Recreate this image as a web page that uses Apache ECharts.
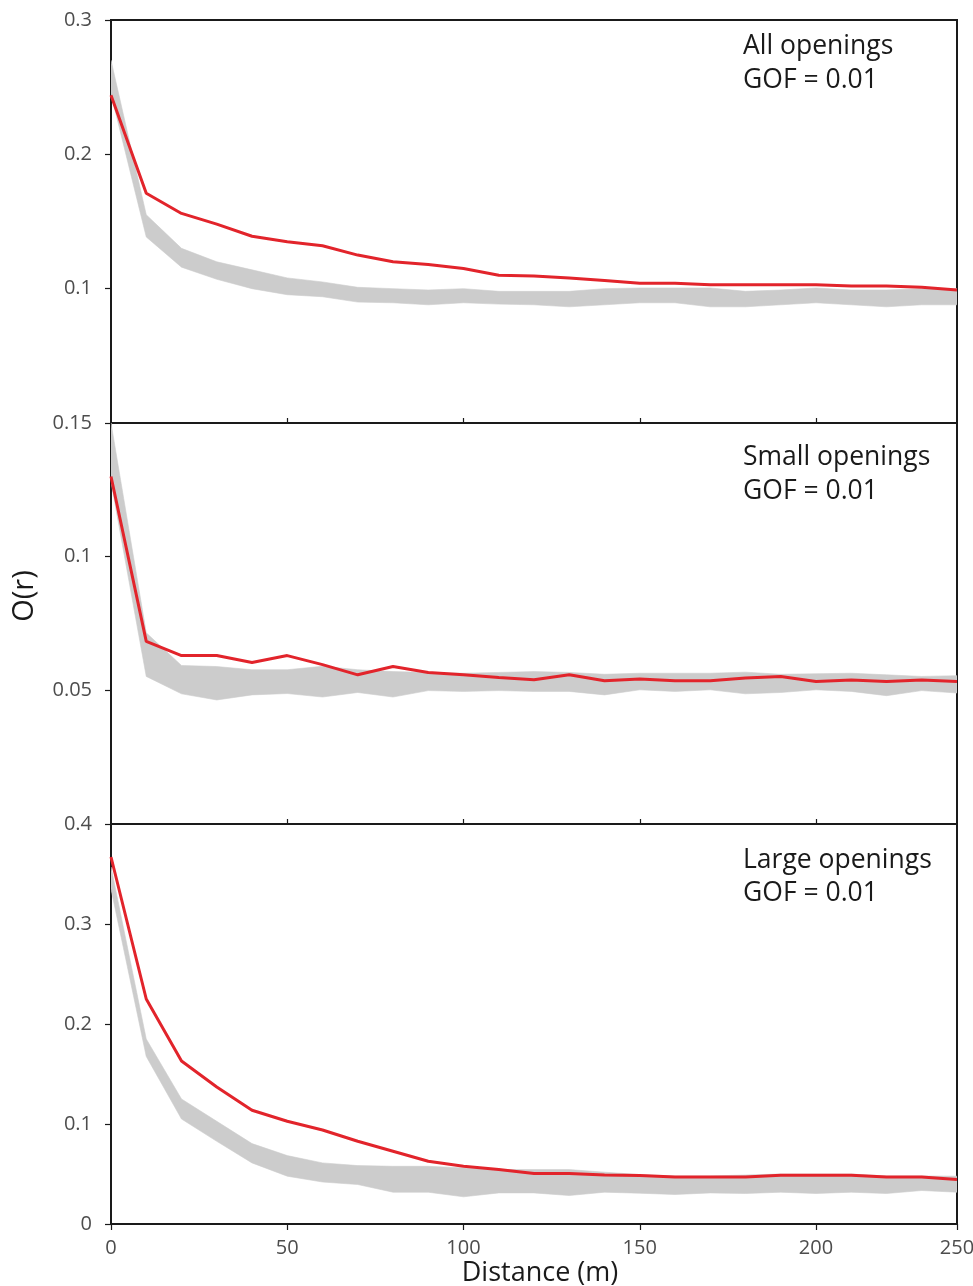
<!DOCTYPE html>
<html>
<head>
<meta charset="utf-8">
<title>O(r) of canopy openings</title>
<script src="https://cdn.jsdelivr.net/npm/echarts@6/dist/echarts.min.js"></script>
<style>
  html, body { margin: 0; padding: 0; background: #ffffff; }
  #chart { width: 973px; height: 1286px; }
</style>
</head>
<body>
<div id="chart"></div>
<script>
// Distance classes (m)
const distance = [0, 10, 20, 30, 40, 50, 60, 70, 80, 90, 100, 110, 120,
                  130, 140, 150, 160, 170, 180, 190, 200, 210, 220, 230, 240];

// x tick positions and the text printed under them
const xTickValues = [0, 50, 100, 150, 200, 240];
const xTickLabels = ['0', '50', '100', '150', '200', '250'];

// All openings: observed O(r) and simulation envelope
const obsAll = [0.244, 0.171, 0.156, 0.148, 0.139, 0.135, 0.132, 0.125, 0.120, 0.118, 0.115, 0.110, 0.1095,
                0.108, 0.106, 0.104, 0.104, 0.103, 0.103, 0.103, 0.103, 0.102, 0.102, 0.101, 0.099];
const hiAll  = [0.270, 0.155, 0.130, 0.120, 0.114, 0.108, 0.105, 0.101, 0.100, 0.099, 0.100, 0.098, 0.098,
                0.098, 0.100, 0.1005, 0.1005, 0.1005, 0.098, 0.099, 0.1005, 0.099, 0.099, 0.100, 0.100];
const loAll  = [0.245, 0.1385, 0.116, 0.107, 0.100, 0.0955, 0.094, 0.090, 0.0895, 0.088, 0.0895, 0.0885, 0.088,
                0.0865, 0.088, 0.0895, 0.0895, 0.0865, 0.0865, 0.088, 0.0895, 0.088, 0.0865, 0.088, 0.088];

// Small openings
const obsSmall = [0.130, 0.0683, 0.063, 0.063, 0.0604, 0.063, 0.0596, 0.0558, 0.0589, 0.0567, 0.0558, 0.0548, 0.054,
                  0.0558, 0.0536, 0.0542, 0.0536, 0.0536, 0.0546, 0.0552, 0.0533, 0.0539, 0.0533, 0.0539, 0.0533];
const hiSmall  = [0.150, 0.0715, 0.0593, 0.0589, 0.0577, 0.0577, 0.059, 0.0577, 0.057, 0.0567, 0.0564, 0.0567, 0.057,
                  0.0567, 0.056, 0.0564, 0.0564, 0.0564, 0.0568, 0.056, 0.0562, 0.0564, 0.0558, 0.0552, 0.0555];
const loSmall  = [0.128, 0.0552, 0.0487, 0.0464, 0.0483, 0.0488, 0.0475, 0.0492, 0.0475, 0.0499, 0.0496, 0.0499, 0.0496,
                  0.0496, 0.0483, 0.0502, 0.0496, 0.0502, 0.0487, 0.0492, 0.0502, 0.0496, 0.048, 0.0499, 0.049];

// Large openings
const obsLarge = [0.367, 0.225, 0.163, 0.137, 0.1137, 0.1027, 0.094, 0.0827, 0.0727, 0.0627, 0.0577, 0.0544, 0.0504,
                  0.0504, 0.049, 0.0484, 0.0471, 0.0471, 0.0471, 0.0488, 0.0488, 0.0488, 0.0471, 0.0471, 0.0445];
const hiLarge  = [0.357, 0.185, 0.125, 0.1027, 0.0804, 0.0684, 0.0611, 0.0584, 0.0577, 0.0577, 0.0561, 0.0544, 0.0544,
                  0.0544, 0.0518, 0.0494, 0.048, 0.048, 0.049, 0.050, 0.050, 0.050, 0.048, 0.048, 0.0478];
const loLarge  = [0.335, 0.1676, 0.105, 0.0827, 0.0611, 0.0478, 0.042, 0.0395, 0.0318, 0.0318, 0.0272, 0.0311, 0.0311,
                  0.0285, 0.0318, 0.0308, 0.0295, 0.0311, 0.0305, 0.0318, 0.0305, 0.0318, 0.0305, 0.0335, 0.0318];

const panelTitles = ['All openings', 'Small openings', 'Large openings'];
const gofText = 'GOF = 0.01';
const yMax = [0.3, 0.15, 0.4];
const yStep = [0.1, 0.05, 0.1];

const panels = [
  { obs: obsAll, hi: hiAll, lo: loAll },
  { obs: obsSmall, hi: hiSmall, lo: loSmall },
  { obs: obsLarge, hi: hiLarge, lo: loLarge }
];

const FONT = 'Open Sans';
const INK = '#1a1a1a';
const LABEL = '#4d4d4d';
const RED = '#e2242b';
const BAND = '#cccccc';

// panel frames in pixels
const frames = [
  { top: 20, height: 403 },
  { top: 423, height: 401 },
  { top: 824, height: 400 }
];
const gridLeft = 111, gridRight = 16;
// vertical centres of the two annotation lines, relative to each panel top
const noteOffsets = [[26, 60], [34, 68], [36, 69]];

const grids = [], xAxes = [], yAxes = [], series = [], graphics = [];

// envelope polygon: upper edge left to right, then lower edge back
function envelopeRenderer(rows) {
  return function (params, api) {
    if (params.dataIndex !== 0) return null;
    const upper = rows.map(r => api.coord([r[0], r[2]]));
    const lower = rows.map(r => api.coord([r[0], r[1]])).reverse();
    return {
      type: 'polygon',
      shape: { points: upper.concat(lower) },
      style: { fill: BAND, stroke: BAND, lineWidth: 0.6 },
      silent: true
    };
  };
}

panels.forEach((p, i) => {
  const last = i === panels.length - 1;
  grids.push({
    left: gridLeft, right: gridRight, top: frames[i].top, height: frames[i].height,
    outerBoundsMode: 'none', containLabel: false,
    show: true, borderColor: INK, borderWidth: 2, backgroundColor: 'transparent'
  });
  xAxes.push({
    type: 'value', gridIndex: i, min: 0, max: 240, interval: 50,
    axisLine: { show: true, onZero: false, lineStyle: { color: INK, width: 2 } },
    axisTick: {
      show: true, inside: !last, length: last ? 6 : 5,
      customValues: last ? xTickValues : [50, 100, 150, 200],
      lineStyle: { color: INK, width: 1.2 }
    },
    axisLabel: {
      show: last, margin: 14, fontFamily: FONT, fontSize: 20, color: LABEL,
      hideOverlap: false,
      customValues: xTickValues,
      formatter: v => {
        const k = xTickValues.indexOf(v);
        return k >= 0 ? xTickLabels[k] : '';
      }
    },
    splitLine: { show: false }
  });
  yAxes.push({
    type: 'value', gridIndex: i, min: 0, max: yMax[i], interval: yStep[i],
    axisLine: { show: true, lineStyle: { color: INK, width: 2 } },
    axisTick: { show: true, length: 6, lineStyle: { color: INK, width: 1.2 } },
    axisLabel: {
      margin: 19, fontFamily: FONT, fontSize: 20, color: LABEL,
      showMinLabel: last,
      formatter: v => String(Math.round(v * 100) / 100)
    },
    splitLine: { show: false }
  });

  const rows = distance.map((d, k) => [d, p.lo[k], p.hi[k]]);
  series.push({
    type: 'custom', xAxisIndex: i, yAxisIndex: i,
    data: rows,
    encode: { x: 0, y: [1, 2] },
    renderItem: envelopeRenderer(rows),
    clip: true, silent: true, z: 1
  });
  series.push({
    type: 'line', xAxisIndex: i, yAxisIndex: i,
    data: distance.map((d, k) => [d, p.obs[k]]),
    symbol: 'none', lineStyle: { color: RED, width: 3 }, z: 3
  });

  graphics.push({
    type: 'text', x: 743, y: frames[i].top + noteOffsets[i][0],
    style: { text: panelTitles[i], font: '26.5px "' + FONT + '"', fill: INK, verticalAlign: 'middle' }
  });
  graphics.push({
    type: 'text', x: 743, y: frames[i].top + noteOffsets[i][1],
    style: { text: gofText, font: '26.5px "' + FONT + '"', fill: INK, verticalAlign: 'middle' }
  });
});

// axis titles
graphics.push({
  type: 'text', x: 25, y: 596, rotation: Math.PI / 2,
  style: { text: 'O(r)', font: '29px "' + FONT + '"', fill: INK, align: 'center', verticalAlign: 'middle' }
});
graphics.push({
  type: 'text', x: 540, y: 1273,
  style: { text: 'Distance (m)', font: '27px "' + FONT + '"', fill: INK, align: 'center', verticalAlign: 'middle' }
});

const chart = echarts.init(document.getElementById('chart'), null, { renderer: 'canvas' });
chart.setOption({
  animation: false,
  backgroundColor: '#ffffff',
  grid: grids,
  xAxis: xAxes,
  yAxis: yAxes,
  series: series,
  graphic: graphics
});
</script>
</body>
</html>
